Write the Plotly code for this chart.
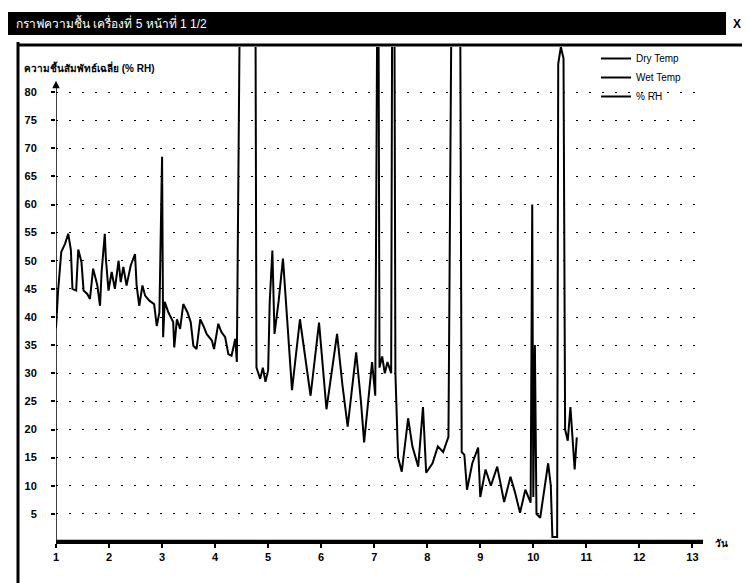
import plotly.graph_objects as go

# ---- data ----
day = [1.00, 1.04, 1.10, 1.17, 1.23, 1.28, 1.31, 1.38, 1.42, 1.48, 1.52, 1.59, 1.64, 1.70, 1.78,
       1.83, 1.86, 1.92, 1.94, 1.99, 2.05, 2.11, 2.18, 2.22, 2.27, 2.33, 2.41, 2.49, 2.52, 2.57,
       2.63, 2.68, 2.76, 2.85, 2.90, 2.95, 3.00, 3.02, 3.05, 3.12, 3.21, 3.23, 3.28, 3.34, 3.40,
       3.48, 3.54, 3.59, 3.65, 3.72, 3.79, 3.84, 3.94, 3.98, 4.06, 4.12, 4.19, 4.25, 4.31, 4.38,
       4.41, 4.42, 4.45, 4.47, 4.76, 4.78, 4.85, 4.90, 4.95, 5.00, 5.03, 5.08, 5.12, 5.20, 5.28,
       5.35, 5.45, 5.60, 5.70, 5.80, 5.96, 6.05, 6.10, 6.30, 6.40, 6.50, 6.66, 6.75, 6.81, 6.96,
       7.02, 7.06, 7.08, 7.10, 7.15, 7.20, 7.25, 7.32, 7.34, 7.38, 7.40, 7.45, 7.52, 7.64, 7.72,
       7.83, 7.92, 7.98, 8.10, 8.20, 8.30, 8.40, 8.42, 8.46, 8.62, 8.63, 8.65, 8.70, 8.75, 8.85,
       8.96, 9.00, 9.10, 9.20, 9.32, 9.45, 9.57, 9.65, 9.75, 9.85, 9.95, 9.98, 10.00, 10.03, 10.06,
       10.13, 10.28, 10.33, 10.36, 10.45, 10.47, 10.52, 10.57, 10.60, 10.65, 10.70, 10.78, 10.82]
rh = [38, 44.7, 51.6, 53, 54.8, 52, 45, 44.7, 52, 49.8, 44.7, 44.1, 43.2, 48.6, 45.6,
      42, 48, 54.8, 50.4, 44.7, 48, 45, 50, 46.2, 48.9, 45.6, 49.2, 51.2, 45.6, 42,
      45.6, 43.8, 42.9, 42.3, 38.4, 40.8, 68.5, 36.4, 42.7, 40.8, 39.1, 34.6, 39.6, 37.9, 42.3,
      40.8, 39.1, 34.9, 34.3, 39.6, 38.2, 37, 35.8, 34.3, 38.8, 37.3, 36.4, 33.4, 33.1, 36.1,
      32, 46, 84, 100, 100, 31, 29, 31, 28.5, 30.5, 42.7, 51.8, 37, 43, 50.4,
      40, 27, 39.6, 33, 26, 39, 30, 23.6, 37, 28, 20.5, 33.7, 25, 17.7, 32,
      26, 100, 100, 31, 33, 30, 32, 30, 100, 100, 30, 15, 12.5, 22, 17,
      13.4, 24, 12.3, 14, 17, 16, 18.7, 51, 100, 100, 51, 16, 15.5, 9.3, 14,
      16.8, 8, 12.9, 10, 13.4, 7.1, 11.6, 9, 5.2, 9.3, 7, 60, 8, 35, 5,
      4.3, 14, 10, 0.9, 0.9, 85, 88, 86, 20, 18, 24, 12.9, 18.6]
# Dry/Wet temperature series have no visible data in the chart (legend only)
dry_temp_day = [None]
dry_temp = [None]
wet_temp_day = [None]
wet_temp = [None]

x_ticks = list(range(1, 14))
y_ticks = list(range(5, 85, 5))

FONT = "Liberation Sans, Arial, Noto Sans, sans-serif"

fig = go.Figure()
fig.add_trace(go.Scatter(x=dry_temp_day, y=dry_temp, mode="lines", name="Dry Temp",
                         line=dict(color="black", width=2)))
fig.add_trace(go.Scatter(x=wet_temp_day, y=wet_temp, mode="lines", name="Wet Temp",
                         line=dict(color="black", width=2)))
fig.add_trace(go.Scatter(x=day, y=rh, mode="lines", name="% RH",
                         line=dict(color="black", width=2)))

def px_x(px):
    return (px - 56) / 647.0

def px_y(py):
    return (542 - py) / 495.0

fig.update_layout(
    width=748, height=583,
    margin=dict(l=56, r=45, t=47, b=41),
    paper_bgcolor="white", plot_bgcolor="white",
    font=dict(family=FONT, size=11, color="black"),
    showlegend=True,
    legend=dict(x=px_x(596), y=px_y(44), xanchor="left", yanchor="top",
                bgcolor="rgba(0,0,0,0)", font=dict(size=10, color="black"),
                tracegroupgap=0, itemwidth=30),
    xaxis=dict(range=[1, 13.2], tickmode="array", tickvals=x_ticks,
               ticktext=[str(v) for v in x_ticks], showgrid=False, zeroline=False,
               showline=True, linecolor="black", linewidth=2,
               ticks="outside", ticklen=4, tickcolor="black", tickwidth=1.5,
               tickfont=dict(size=11, weight="bold")),
    yaxis=dict(range=[0, 88], tickmode="array", tickvals=y_ticks,
               ticktext=[str(v) for v in y_ticks], showgrid=True,
               gridcolor="black", gridwidth=1, griddash="2px,11px",
               zeroline=False, showline=False,
               ticks="outside", ticklen=4, tickcolor="black", tickwidth=1.5,
               ticklabelstandoff=12,
               tickfont=dict(size=11, weight="bold")),
)

shapes = [
    # y axis line (stops at top with arrow)
    dict(type="line", xref="x", yref="y", x0=1, x1=1, y0=0, y1=81.5,
         line=dict(color="black", width=1.5)),
    # x axis line drawn on top, unclipped
    dict(type="line", xref="paper", yref="paper", x0=0, x1=1.0, y0=px_y(541),
         y1=px_y(541), line=dict(color="black", width=2.5), layer="above"),
    # window title bar
    dict(type="rect", xref="paper", yref="paper", x0=px_x(8), x1=px_x(726),
         y0=px_y(35), y1=px_y(12), fillcolor="black", line=dict(width=0)),
    # window frame: left and top
    dict(type="line", xref="paper", yref="paper", x0=px_x(18), x1=px_x(18),
         y0=px_y(42), y1=px_y(583), line=dict(color="black", width=3)),
    dict(type="line", xref="paper", yref="paper", x0=px_x(18), x1=px_x(742),
         y0=px_y(45), y1=px_y(45), line=dict(color="black", width=3)),
]
fig.update_layout(shapes=shapes)

fig.add_annotation(x=px_x(14), y=px_y(23), xref="paper", yref="paper",
                   text="กราฟความชื้น เครื่องที่ 5 หน้าที่ 1 1/2", showarrow=False,
                   xanchor="left", yanchor="middle",
                   font=dict(color="white", size=12, family=FONT))
fig.add_annotation(x=px_x(737), y=px_y(24), xref="paper", yref="paper",
                   text="<b>X</b>", showarrow=False, xanchor="center", yanchor="middle",
                   font=dict(color="black", size=12, family=FONT))
fig.add_annotation(x=px_x(22), y=px_y(67), xref="paper", yref="paper",
                   text="<b>ความชื้นสัมพัทธ์เฉลี่ย (% RH)</b>", showarrow=False,
                   xanchor="left", yanchor="middle",
                   font=dict(size=10, family=FONT))
fig.add_annotation(x=px_x(713), y=px_y(543), xref="paper", yref="paper",
                   text="<b>วัน</b>", showarrow=False, xanchor="left", yanchor="middle",
                   font=dict(size=10, family=FONT))
# axis arrows
fig.add_annotation(x=13.25, y=0, xref="x", yref="y", ax=-12, ay=0, text="",
                   showarrow=True, arrowhead=2, arrowsize=1, arrowwidth=1.5,
                   arrowcolor="black")
fig.add_annotation(x=1, y=82, xref="x", yref="y", ax=0, ay=8, text="",
                   showarrow=True, arrowhead=2, arrowsize=1, arrowwidth=1.5,
                   arrowcolor="black")

fig.write_html("out.html", config={"displayModeBar": False},
               post_script="document.body.style.margin='0px';"
                           "document.body.style.overflow='hidden';")
